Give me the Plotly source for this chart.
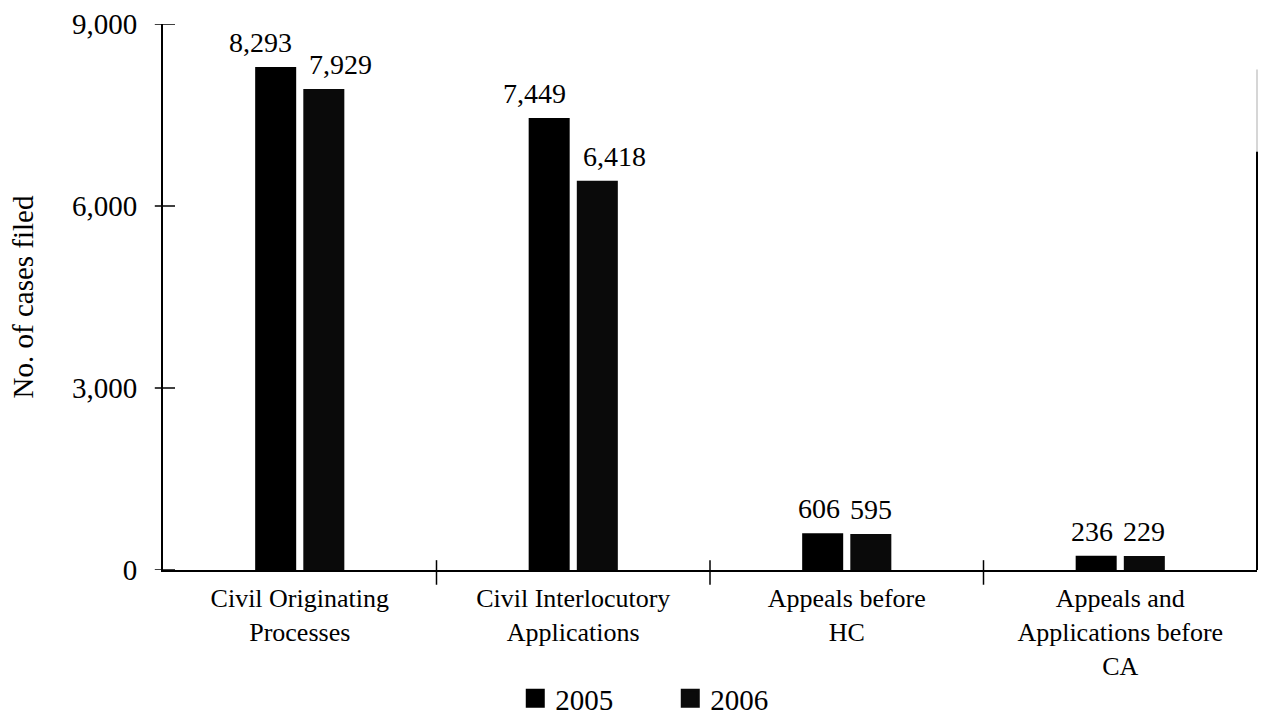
import plotly.graph_objects as go

# Cases filed by type, 2005 vs 2006
categories = [
    "Civil Originating<br>Processes",
    "Civil Interlocutory<br>Applications",
    "Appeals before<br>HC",
    "Appeals and<br>Applications before<br>CA",
]
cases_2005 = [8293, 7449, 606, 236]
cases_2006 = [7929, 6418, 595, 229]
years = ["2005", "2006"]
y_ticks = [0, 3000, 6000, 9000]

FONT = "Liberation Serif, Times New Roman, serif"
BAR_W = 0.15       # bar width in category units
BAR_GAP = 0.026    # gap between the two bars of a group
idx = list(range(len(categories)))

fig = go.Figure()
series = [
    (years[0], cases_2005, -(BAR_W + BAR_GAP / 2), "#000000"),
    (years[1], cases_2006, BAR_GAP / 2, "#0a0a0a"),
]
for name, vals, off, col in series:
    fig.add_trace(go.Bar(
        x=idx, y=vals, name=name, width=BAR_W, offset=off,
        marker=dict(color=col, line=dict(width=0)),
        showlegend=False,
    ))
    # legend entry with a larger square swatch
    fig.add_trace(go.Scatter(
        x=[None], y=[None], mode="markers", name=name,
        marker=dict(symbol="square", size=16, color=col,
                    line=dict(color=col, width=3)),
    ))

# value labels above each bar, nudged apart so wide numbers don't collide
for s, (name, vals, off, col) in enumerate(series):
    for i, v in enumerate(vals):
        txt = f"{v:,}"
        wide = len(txt) > 3
        if s == 0:
            shift = -15 if wide else -4
        else:
            shift = 17 if wide else 0
        fig.add_annotation(
            x=i + off + BAR_W / 2, y=v, text=txt, showarrow=False,
            xref="x", yref="y", yanchor="bottom", xshift=shift, yshift=7,
            font=dict(family=FONT, size=28, color="#000"),
        )

shapes = []
# y ticks crossing the axis line
for t in y_ticks:
    shapes.append(dict(type="line", xref="paper", yref="y",
                       x0=-0.0075, x1=0.011, y0=t, y1=t,
                       line=dict(color="#000", width=1.5)))
# category boundary ticks crossing the x axis
for b in [i + 0.5 for i in idx[:-1]]:
    shapes.append(dict(type="line", xref="x", yref="paper",
                       x0=b, x1=b, y0=-0.027, y1=0.018,
                       line=dict(color="#000", width=1.5)))
# right-hand frame line
shapes.append(dict(type="line", xref="paper", yref="y", x0=1, x1=1,
                   y0=0, y1=6900, line=dict(color="#000", width=2)))
shapes.append(dict(type="line", xref="paper", yref="y", x0=1, x1=1,
                   y0=6900, y1=8250, line=dict(color="#c8c8c8", width=1.5)))

fig.update_layout(
    width=1261, height=727,
    margin=dict(l=163, r=4, t=24, b=156),
    paper_bgcolor="white", plot_bgcolor="white",
    font=dict(family=FONT, size=28, color="#000"),
    shapes=shapes,
    xaxis=dict(
        range=[-0.5, len(categories) - 0.5],
        tickmode="array", tickvals=idx, ticktext=categories,
        showline=True, linecolor="#000", linewidth=2,
        ticks="", showgrid=False, zeroline=False, automargin=False,
        tickfont=dict(family=FONT, size=26),
        ticklabelstandoff=4,
    ),
    yaxis=dict(
        range=[0, 9000], tickmode="array", tickvals=y_ticks,
        ticktext=[f"{t:,}" for t in y_ticks],
        showline=True, linecolor="#000", linewidth=2,
        ticks="", showgrid=False, zeroline=False, automargin=False,
        tickfont=dict(family=FONT, size=29),
        ticklabelstandoff=18,
        title=dict(text="No. of cases filed", standoff=30,
                   font=dict(family=FONT, size=29)),
    ),
    legend=dict(
        orientation="h", x=0.322, xanchor="left", y=-0.233, yanchor="middle",
        font=dict(family=FONT, size=29), bgcolor="rgba(0,0,0,0)",
        entrywidth=110, entrywidthmode="pixels",
    ),
)

fig.write_html("out.html")
